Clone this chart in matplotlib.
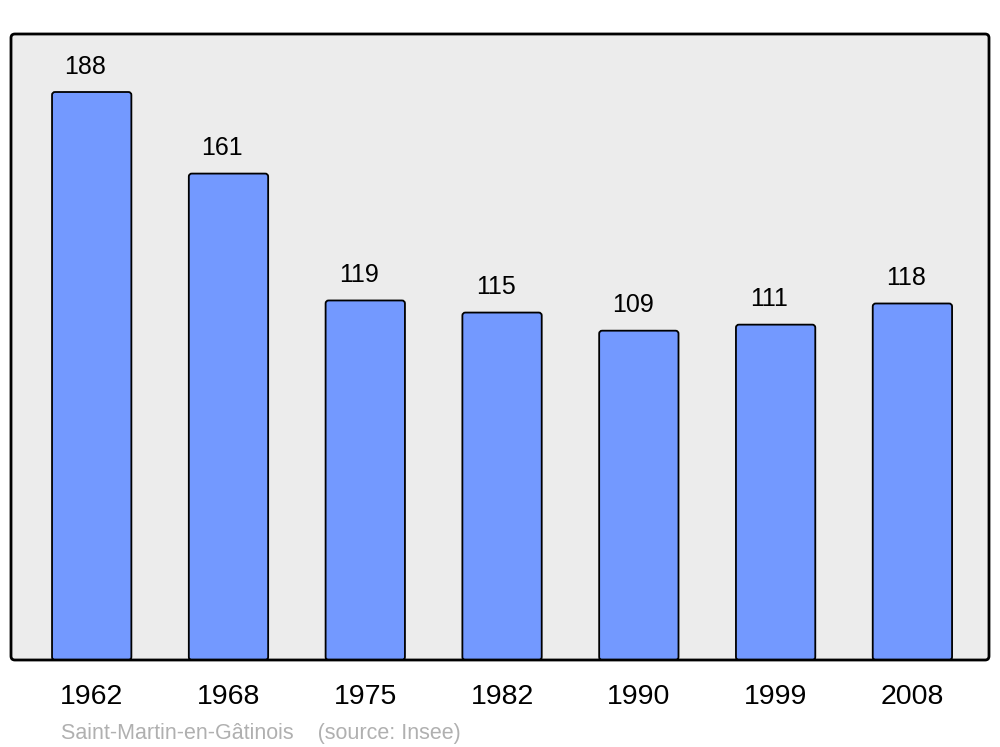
import matplotlib.pyplot as plt
from matplotlib.patches import FancyBboxPatch

years = ['1962', '1968', '1975', '1982', '1990', '1999', '2008']
population = [188, 161, 119, 115, 109, 111, 118]

plt.rcParams['font.family'] = ['Liberation Sans', 'DejaVu Sans']

fig = plt.figure(figsize=(10, 7.47), dpi=100)
ax = fig.add_axes([0.011, 1 - 660 / 747, 0.978, 626 / 747])
ax.set_facecolor('#ececec')

x = list(range(len(years)))
ax.set_xlim(-0.59, 6.56)
ax.set_ylim(0, 207.2)

# bars with slightly rounded corners
bars = ax.bar(x, population, width=0.58, color='#7399ff', edgecolor='black',
              linewidth=1.3, zorder=2)
for b in bars:
    b.set_visible(False)
    rb = FancyBboxPatch((b.get_x(), b.get_y()), b.get_width(), b.get_height(),
                        boxstyle='round,pad=0,rounding_size=0.022',
                        mutation_aspect=45.0, facecolor='#7399ff',
                        edgecolor='black', linewidth=1.3, zorder=2)
    ax.add_patch(rb)

for xi, v in zip(x, population):
    ax.text(xi - 0.045, v + 8.4, str(v), ha='center', va='center', fontsize=18)

ax.set_xticks(x)
ax.set_xticklabels(years, fontsize=20.5)
ax.tick_params(axis='x', length=0, pad=17)
ax.set_yticks([])
for s in ax.spines.values():
    s.set_visible(False)

frame = FancyBboxPatch((0, 0), 1, 1, boxstyle='round,pad=0,rounding_size=0.004',
                       mutation_aspect=978 / 626, transform=ax.transAxes,
                       facecolor='none', edgecolor='black', linewidth=2,
                       clip_on=False, zorder=5)
ax.add_patch(frame)

fig.text(0.061, 1 - 733 / 747, 'Saint-Martin-en-Gâtinois    (source: Insee)',
         color='#b0b0b0', fontsize=15.5, va='center')

fig.savefig('out.png', dpi=100)
